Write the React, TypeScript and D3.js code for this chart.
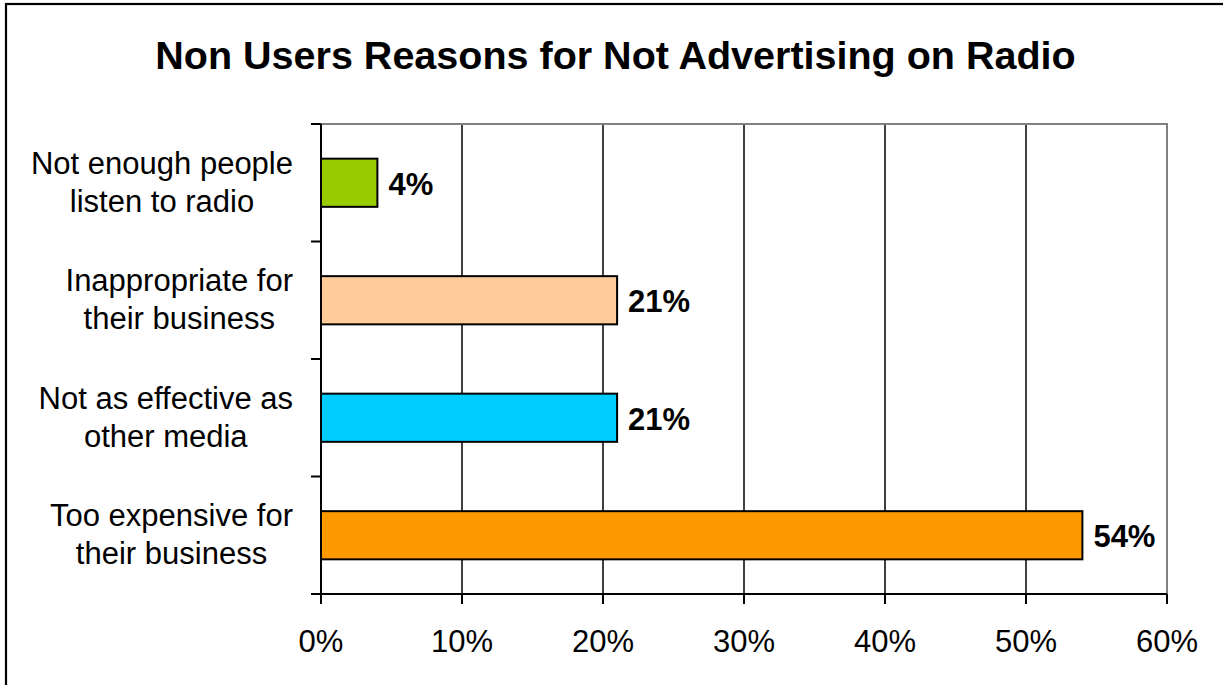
import React, { useEffect, useRef } from "react";
import * as d3 from "d3";

const categories: string[][] = [
  ["Not enough people", "listen to radio"],
  ["Inappropriate for", "their business"],
  ["Not as effective as", "other media"],
  ["Too expensive for", "their business"],
];
const values: number[] = [4, 21, 21, 54];
const barColors: string[] = ["#99CC00", "#FFCC99", "#00CCFF", "#FF9900"];
const xTicks: number[] = [0, 10, 20, 30, 40, 50, 60];
const title = "Non Users Reasons for Not Advertising on Radio";

const W = 1223;
const H = 685;
const FONT = "Arial, 'Liberation Sans', Helvetica, sans-serif";
const FS = 31;

export default function App() {
  const ref = useRef<SVGSVGElement | null>(null);

  useEffect(() => {
    const svg = d3.select(ref.current);
    svg.selectAll("*").remove();

    const left = 321, right = 1167, top = 124, bottom = 594;
    const x = d3.scaleLinear().domain([0, 60]).range([left, right]);
    const y = d3
      .scaleBand<number>()
      .domain(d3.range(categories.length))
      .range([top, bottom])
      .paddingInner(0.59)
      .paddingOuter(0.295);
    const band = (bottom - top) / categories.length;

    // outer frame
    svg
      .append("rect")
      .attr("x", 6)
      .attr("y", 4)
      .attr("width", W + 20)
      .attr("height", H + 20)
      .attr("fill", "white")
      .attr("stroke", "black")
      .attr("stroke-width", 2.2);

    // title
    svg
      .append("text")
      .attr("x", 615.5)
      .attr("y", 69)
      .attr("text-anchor", "middle")
      .attr("font-family", FONT)
      .attr("font-weight", "bold")
      .attr("font-size", 39.5)
      .text(title);

    // gridlines
    svg
      .selectAll("line.grid")
      .data(xTicks.slice(1, -1))
      .enter()
      .append("line")
      .attr("x1", (d) => x(d))
      .attr("x2", (d) => x(d))
      .attr("y1", top)
      .attr("y2", bottom)
      .attr("stroke", "black")
      .attr("stroke-width", 1.5);

    // plot top and right border (gray)
    svg
      .append("path")
      .attr("d", `M${left},${top}H${right}V${bottom}`)
      .attr("fill", "none")
      .attr("stroke", "#808080")
      .attr("stroke-width", 2);

    // bars
    svg
      .selectAll("rect.bar")
      .data(values)
      .enter()
      .append("rect")
      .attr("x", x(0))
      .attr("y", (_, i) => y(i)!)
      .attr("width", (d) => x(d) - x(0))
      .attr("height", y.bandwidth())
      .attr("fill", (_, i) => barColors[i])
      .attr("stroke", "black")
      .attr("stroke-width", 2);

    // value labels
    svg
      .selectAll("text.val")
      .data(values)
      .enter()
      .append("text")
      .attr("x", (d) => x(d) + 11)
      .attr("y", (_, i) => y(i)! + y.bandwidth() / 2 + 12)
      .attr("font-family", FONT)
      .attr("font-weight", "bold")
      .attr("font-size", FS)
      .text((d) => `${d}%`);

    // axes lines
    svg
      .append("line")
      .attr("x1", left)
      .attr("x2", left)
      .attr("y1", top)
      .attr("y2", bottom)
      .attr("stroke", "black")
      .attr("stroke-width", 2);
    svg
      .append("line")
      .attr("x1", left - 10)
      .attr("x2", right)
      .attr("y1", bottom)
      .attr("y2", bottom)
      .attr("stroke", "black")
      .attr("stroke-width", 2);

    // y ticks at band boundaries
    svg
      .selectAll("line.yt")
      .data(d3.range(categories.length + 1))
      .enter()
      .append("line")
      .attr("x1", left - 10)
      .attr("x2", left)
      .attr("y1", (i) => top + i * band)
      .attr("y2", (i) => top + i * band)
      .attr("stroke", "black")
      .attr("stroke-width", 2);

    // x ticks
    svg
      .selectAll("line.xt")
      .data(xTicks)
      .enter()
      .append("line")
      .attr("x1", (d) => x(d))
      .attr("x2", (d) => x(d))
      .attr("y1", bottom)
      .attr("y2", bottom + 10)
      .attr("stroke", "black")
      .attr("stroke-width", 2);

    svg
      .selectAll("text.xl")
      .data(xTicks)
      .enter()
      .append("text")
      .attr("x", (d) => x(d))
      .attr("y", 652)
      .attr("text-anchor", "middle")
      .attr("font-family", FONT)
      .attr("font-size", FS)
      .text((d) => `${d}%`);

    // category labels: block right-aligned at 293, lines centered within block
    const blockRight = 293;
    categories.forEach((lines, i) => {
      const cy = top + (i + 0.5) * band + 10;
      const g = svg.append("g");
      const texts = lines.map((ln, j) =>
        g
          .append("text")
          .attr("y", cy + (j - (lines.length - 1) / 2) * 38)
          .attr("font-family", FONT)
          .attr("font-size", FS)
          .attr("text-anchor", "middle")
          .text(ln)
      );
      const widths = texts.map((t) => (t.node() as SVGTextElement).getComputedTextLength());
      const maxW = d3.max(widths) || 0;
      texts.forEach((t) => t.attr("x", blockRight - maxW / 2));
    });
  }, []);

  return (
    <div style={{ position: "absolute", left: 0, top: 0 }}>
      <svg ref={ref} width={W} height={H} style={{ display: "block" }} />
    </div>
  );
}
